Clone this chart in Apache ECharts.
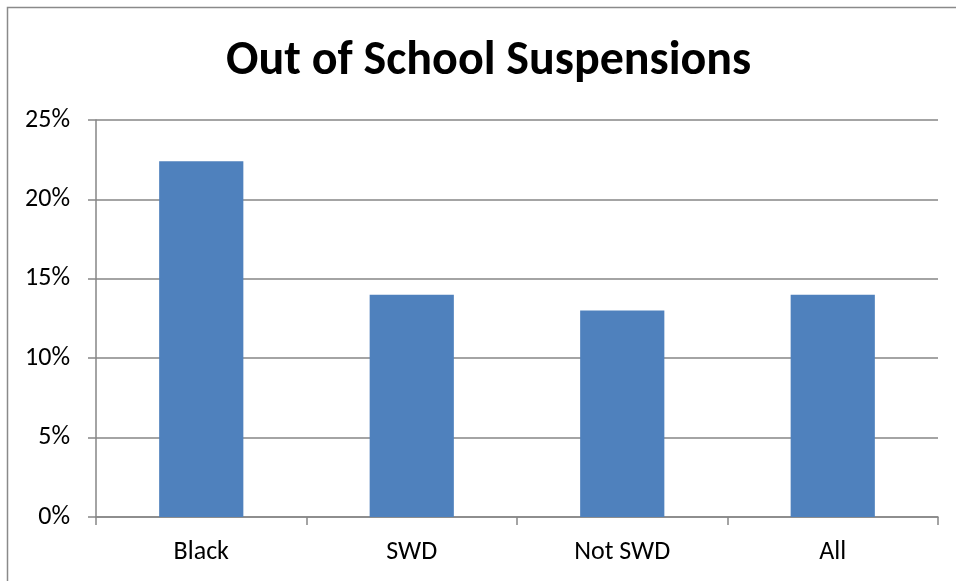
<!DOCTYPE html>
<html>
<head>
<meta charset="utf-8">
<script src="https://cdn.jsdelivr.net/npm/echarts@6/dist/echarts.min.js"></script>
<style>
  html, body { margin: 0; padding: 0; background: #fff; }
  #chart { width: 956px; height: 581px; }
</style>
</head>
<body>
<div id="chart"></div>
<script>
// Out-of-school suspension rates by student group (percent)
const categories = ['Black', 'SWD', 'Not SWD', 'All'];
const suspensionRates = [22.4, 14, 13, 14];
const yTicks = [0, 5, 10, 15, 20, 25];

const chart = echarts.init(document.getElementById('chart'), null, { renderer: 'canvas' });
const labelFont = 'Carlito, "Open Sans", "Liberation Sans", sans-serif';

chart.setOption({
  animation: false,
  backgroundColor: '#ffffff',
  title: {
    text: 'Out of School Suspensions',
    left: 221,
    top: 33,
    textStyle: {
      fontFamily: labelFont,
      fontWeight: 'bold',
      fontSize: 48,
      color: '#000'
    }
  },
  graphic: [{
    type: 'rect',
    shape: { x: 7.5, y: 7.5, width: 1200, height: 1200 },
    style: { fill: 'none', stroke: '#8a8a8a', lineWidth: 1.5 },
    silent: true
  }],
  grid: { left: 96, right: 18, top: 120, bottom: 64 },
  xAxis: {
    type: 'category',
    data: categories,
    axisLine: { show: true, lineStyle: { color: '#868686', width: 1.5 } },
    axisTick: { show: true, length: 8, alignWithLabel: false, lineStyle: { color: '#868686', width: 1.5 } },
    axisLabel: { margin: 22, fontFamily: labelFont, fontSize: 26, color: '#000' }
  },
  yAxis: {
    type: 'value',
    min: yTicks[0],
    max: yTicks[yTicks.length - 1],
    interval: yTicks[1] - yTicks[0],
    axisLine: { show: true, lineStyle: { color: '#868686', width: 1.5 } },
    axisTick: { show: true, length: 8, lineStyle: { color: '#868686', width: 1.5 } },
    splitLine: { show: true, lineStyle: { color: '#868686', width: 1.5 } },
    axisLabel: {
      margin: 26,
      fontFamily: labelFont,
      fontSize: 26,
      color: '#000',
      formatter: v => v + '%'
    }
  },
  series: [{
    type: 'bar',
    data: suspensionRates,
    barCategoryGap: '60%',
    itemStyle: { color: '#4f81bd' }
  }]
});
</script>
</body>
</html>
